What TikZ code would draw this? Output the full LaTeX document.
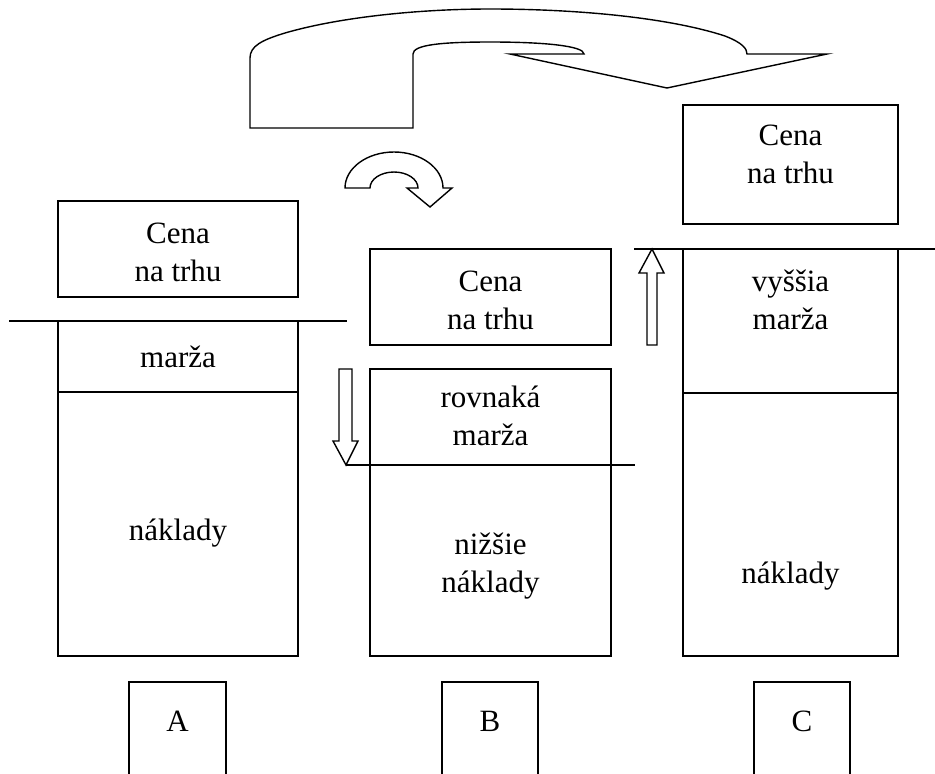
\documentclass[tikz,border=0pt]{standalone}
\usepackage{fontspec}
\setmainfont{Liberation Serif}
\begin{document}
\begin{tikzpicture}[x=1pt,y=-1pt,
  line width=1.4pt,
  box/.style={draw, rectangle, inner sep=0pt},
  lbl/.style={align=center, inner sep=0pt, font=\fontsize{31}{38}\selectfont},
  shapeline/.style={draw, line join=miter}]
\useasboundingbox (0,0) rectangle (935,774);

% ---- Column A ----
\node[box, minimum width=240pt, minimum height=96pt] (cenaA) at (178,249) {};
\node[lbl] (tcenaA) at (178,252) {Cena\\na trhu};
\node[box, minimum width=240pt, minimum height=335pt] (colA) at (178,488.5) {};
\coordinate (divAl) at (58,392);
\coordinate (divAr) at (298,392);
\draw (divAl) -- (divAr);
\coordinate (lineAl) at (9,321);
\coordinate (lineAr) at (347,321);
\draw (lineAl) -- (lineAr);
\node[lbl] (margaA) at (178,357) {marža};
\node[lbl] (naklA) at (178,533) {náklady};

% ---- Column B ----
\node[box, minimum width=241pt, minimum height=96pt] (cenaB) at (490.5,297) {};
\node[lbl] (tcenaB) at (490.5,300) {Cena\\na trhu};
\node[box, minimum width=241pt, minimum height=287pt] (colB) at (490.5,512.5) {};
\coordinate (lineBl) at (346,465);
\coordinate (lineBr) at (635,465);
\draw (lineBl) -- (lineBr);
\node[lbl] (margaB) at (490.5,416) {rovnaká\\marža};
\node[lbl] (naklB) at (490.5,566) {nižšie\\náklady};

% ---- Column C ----
\node[box, minimum width=215pt, minimum height=119pt] (cenaC) at (790.5,164.5) {};
\node[lbl] (tcenaC) at (790.5,154) {Cena\\na trhu};
\node[box, minimum width=215pt, minimum height=407pt] (colC) at (790.5,452.5) {};
\coordinate (divCl) at (683,393);
\coordinate (divCr) at (898,393);
\draw (divCl) -- (divCr);
\coordinate (lineCl) at (634,249);
\coordinate (lineCr) at (935,249);
\draw (lineCl) -- (lineCr);
\node[lbl] (margaC) at (790.5,300) {vyššia\\marža};
\node[lbl] (naklC) at (790.5,576) {náklady};

% ---- bottom letter boxes (open at the bottom) ----
\draw (129,775) -- (129,682) -- (226,682) -- (226,775);
\node[lbl] (letA) at (177.5,721) {A};
\draw (442,775) -- (442,682) -- (538,682) -- (538,775);
\node[lbl] (letB) at (490,721) {B};
\draw (754,775) -- (754,682) -- (850,682) -- (850,775);
\node[lbl] (letC) at (802,721) {C};

% ---- down arrow (B) ----
\draw[shapeline] (339,369) -- (352,369) -- (352,441) -- (358,441) -- (346,465)
  -- (333,441) -- (339,441) -- cycle;

% ---- up arrow (C) ----
\draw[shapeline] (647,345) -- (657,345) -- (657,273) -- (664,273) -- (652,249)
  -- (639,273) -- (647,273) -- cycle;

% ---- small curved arrow ----
\draw[shapeline] (345,188) arc[start angle=180, end angle=0, x radius=49, y radius=-36]
  -- (452,188) -- (430,207) -- (407,188) -- (418,188)
  arc[start angle=0, end angle=180, x radius=24, y radius=-16] -- cycle;

% ---- big curved arrow ----
\draw[shapeline] (250,128) -- (250,58)
  .. controls (250,46) and (262,40) .. (285,33)
  .. controls (340,17) and (420,9) .. (490,9)
  .. controls (580,9) and (670,18) .. (725,36)
  .. controls (743,43) and (747,49) .. (747,54)
  -- (827,54) -- (667,88) -- (510,54) -- (584,54)
  .. controls (584,46) and (545,42) .. (490,42)
  .. controls (440,42) and (413,45) .. (413,54)
  -- (413,128) -- cycle;
\end{tikzpicture}
\end{document}
